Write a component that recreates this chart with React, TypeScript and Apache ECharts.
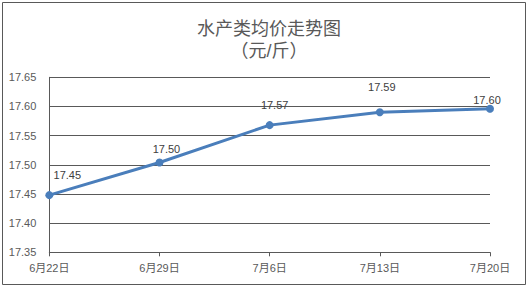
import React, { useEffect, useRef } from "react";
import * as echarts from "echarts";

const categories = ["6月22日", "6月29日", "7月6日", "7月13日", "7月20日"];
const prices = [17.448, 17.504, 17.568, 17.59, 17.596];
const labelOffsets: [number, number][] = [
  [18, -20],
  [7, -13],
  [5, -20],
  [2, -25],
  [-3, -9],
];
const titleLine1 = "水产类均价走势图";
const titleLine2 = "（元/斤）";

const FONT = "'Liberation Sans', Arial, 'Noto Sans CJK SC', sans-serif";

export default function App() {
  const ref = useRef<HTMLDivElement>(null);
  useEffect(() => {
    if (!ref.current) return;
    const chart = echarts.init(ref.current, undefined, { renderer: "svg" });
    const titleStyle = {
      fontSize: 18,
      lineHeight: 18,
      fontFamily: FONT,
      fill: "#595959",
      textAlign: "center",
      textVerticalAlign: "middle",
    };
    chart.setOption({
      animation: false,
      backgroundColor: "#ffffff",
      graphic: [
        {
          type: "rect",
          shape: { x: 2.5, y: 2.5, width: 523, height: 282 },
          style: { fill: "none", stroke: "#595959", lineWidth: 1 },
          silent: true,
        },
        {
          type: "text",
          x: 269,
          y: 29,
          style: { ...titleStyle, text: titleLine1 },
        },
        {
          type: "text",
          x: 269,
          y: 51,
          style: { ...titleStyle, text: titleLine2 },
        },
      ],
      grid: { left: 49.3, right: 39, top: 77.3, bottom: 34.7, containLabel: false },
      xAxis: {
        type: "category",
        data: categories,
        boundaryGap: false,
        axisLine: { show: true, lineStyle: { color: "#595959", width: 1 } },
        axisTick: { show: true, length: 4, inside: false, lineStyle: { color: "#595959" } },
        axisLabel: { color: "#595959", fontSize: 11, fontFamily: FONT, margin: 10 },
        splitLine: { show: false },
      },
      yAxis: {
        type: "value",
        min: 17.35,
        max: 17.65,
        interval: 0.05,
        axisLine: { show: true, lineStyle: { color: "#595959", width: 1 } },
        axisTick: { show: false },
        axisLabel: {
          color: "#595959",
          fontSize: 11,
          fontFamily: FONT,
          margin: 13,
          formatter: (v: number) => v.toFixed(2),
        },
        splitLine: { show: true, lineStyle: { color: "#595959", width: 1 } },
      },
      series: [
        {
          type: "line",
          data: prices.map((v, i) => ({
            value: v,
            label: { offset: labelOffsets[i] },
          })),
          symbol: "circle",
          symbolSize: 8,
          lineStyle: { color: "#4A7EBB", width: 3 },
          itemStyle: { color: "#4A7EBB" },
          label: {
            show: true,
            position: "inside",
            color: "#404040",
            fontSize: 11,
            fontFamily: FONT,
            formatter: (p: any) => Number(p.value).toFixed(2),
          },
        },
      ],
    });
    return () => chart.dispose();
  }, []);
  return (
    <div
      ref={ref}
      style={{ position: "fixed", left: 0, top: 0, width: 529, height: 287 }}
    />
  );
}
